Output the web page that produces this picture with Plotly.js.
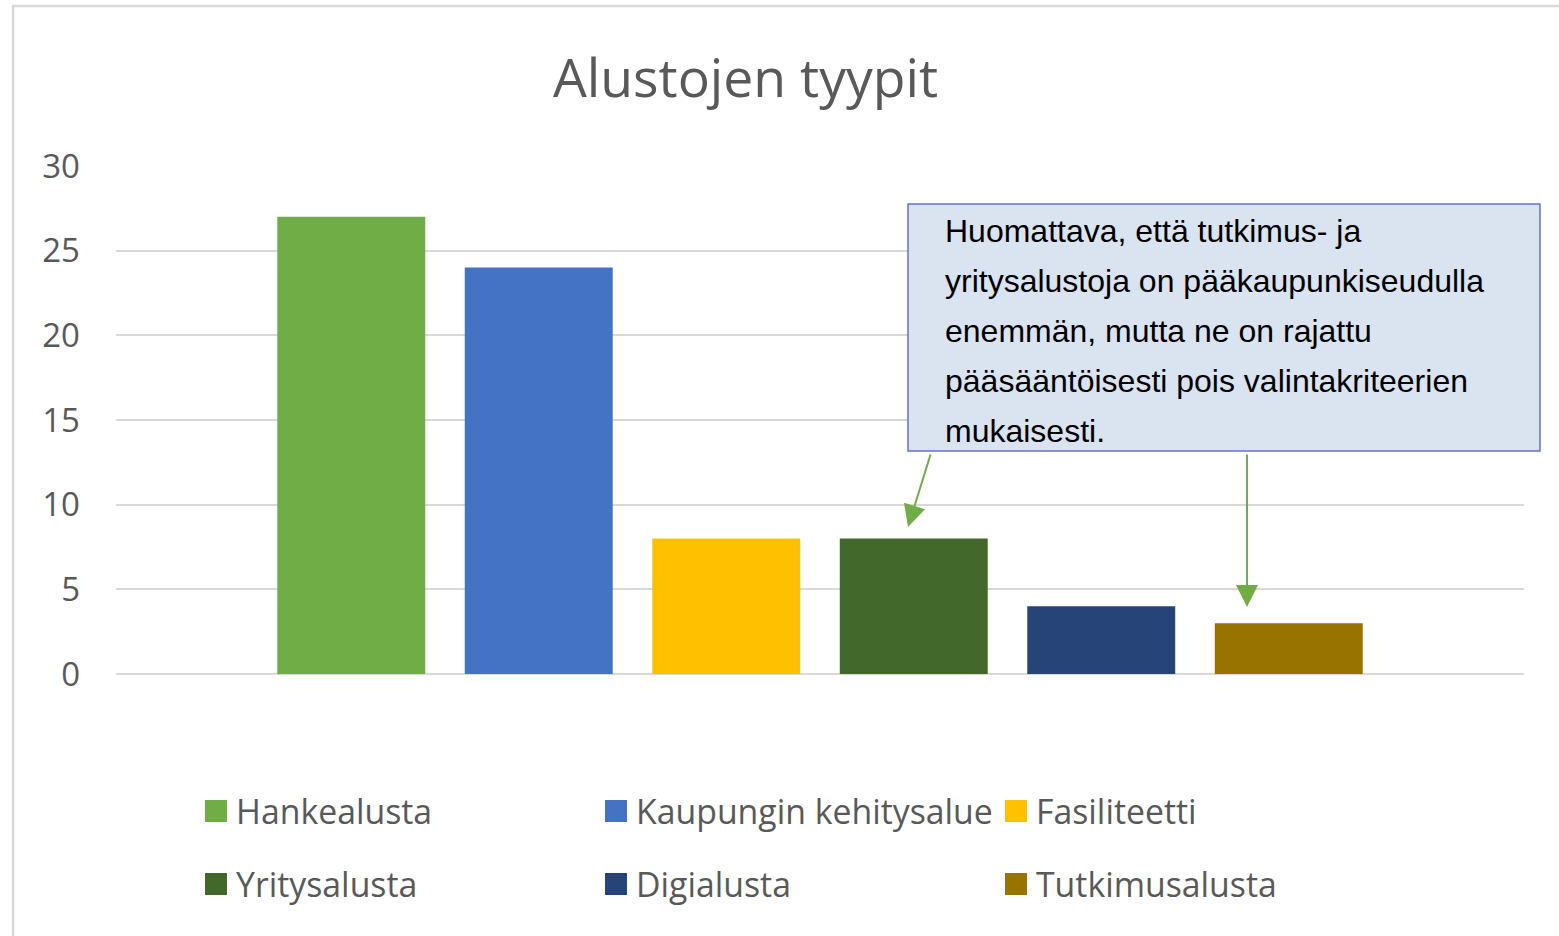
<!DOCTYPE html>
<html>
<head>
<meta charset="utf-8">
<script src="https://cdn.plot.ly/plotly-3.0.1.min.js"></script>
<style>
  html, body { margin: 0; padding: 0; background: #ffffff; overflow: hidden; }
  #chart { width: 1559px; height: 936px; }
</style>
</head>
<body>
<div id="chart"></div>
<script>
// ---- data ----
const category = ["Alustojen tyypit"];
const seriesNames = ["Hankealusta", "Kaupungin kehitysalue", "Fasiliteetti", "Yritysalusta", "Digialusta", "Tutkimusalusta"];
const seriesValues = [27, 24, 8, 8, 4, 3];
const seriesColors = ["#70AD47", "#4472C4", "#FFC000", "#43682B", "#264478", "#997300"];
const yTickValues = [0, 5, 10, 15, 20, 25, 30];
const chartTitle = "Alustojen tyypit";
const noteLines = [
  "Huomattava, että tutkimus- ja",
  "yritysalustoja on pääkaupunkiseudulla",
  "enemmän, mutta ne on rajattu",
  "pääsääntöisesti pois valintakriteerien",
  "mukaisesti."
];

// ---- layout geometry ----
const W = 1559, H = 936;
const M = { l: 116, r: 35, t: 166, b: 262 };
const PW = W - M.l - M.r, PH = H - M.t - M.b;
const px = x => (x - M.l) / PW;          // pixel -> paper x
const py = y => (H - M.b - y) / PH;      // pixel -> paper y

const traces = seriesNames.map((name, i) => ({
  type: "bar", name: name, x: category, y: [seriesValues[i]],
  marker: { color: seriesColors[i], line: { width: 0 } },
  legend: i < 3 ? "legend" : "legend2"
}));

const legendFont = { family: "Open Sans, sans-serif", size: 33.8, color: "#595959" };
const noteFont = { family: "Liberation Sans, Arial, sans-serif", size: 32, color: "#000000" };

const annotations = noteLines.map((t, i) => ({
  xref: "paper", yref: "paper", x: px(943), y: py(231 + 50 * i),
  xanchor: "left", yanchor: "middle", text: t, showarrow: false, font: noteFont, align: "left"
}));
annotations.push({ xref: "paper", yref: "paper", x: px(908), y: py(527), text: "",
  showarrow: true, arrowhead: 2, arrowsize: 2.2, arrowwidth: 2, arrowcolor: "#70AD47", ax: 23, ay: -74, standoff: 0 });
annotations.push({ xref: "paper", yref: "paper", x: px(1247), y: py(607), text: "",
  showarrow: true, arrowhead: 2, arrowsize: 2.2, arrowwidth: 2, arrowcolor: "#70AD47", ax: 0, ay: -154, standoff: 0 });

const layout = {
  width: W, height: H, margin: M,
  paper_bgcolor: "#ffffff", plot_bgcolor: "#ffffff",
  barmode: "group", bargap: 0.201, bargroupgap: 0.211,
  title: { text: chartTitle, font: { family: "Open Sans, sans-serif", size: 53.5, color: "#595959" },
    xref: "container", yref: "container", x: 745.5 / W, y: 1 - 78 / H, xanchor: "center", yanchor: "middle" },
  xaxis: { type: "category", range: [-0.5, 0.5], showticklabels: false, showgrid: false, zeroline: false, showline: false, ticks: "" },
  yaxis: { range: [0, 30], tickvals: yTickValues, ticktext: yTickValues.map(String),
    showgrid: true, gridcolor: "#D9D9D9", gridwidth: 2, zeroline: true, zerolinecolor: "#D9D9D9", zerolinewidth: 2,
    showline: false, ticks: "", ticklabelstandoff: 35,
    tickfont: { family: "Open Sans, sans-serif", size: 33, color: "#595959" } },
  legend: { orientation: "h", x: px(196), y: py(811), xanchor: "left", yanchor: "middle",
    entrywidth: 355, entrywidthmode: "pixels", font: legendFont, bgcolor: "rgba(0,0,0,0)" },
  legend2: { orientation: "h", x: px(196), y: py(884), xanchor: "left", yanchor: "middle",
    entrywidth: 355, entrywidthmode: "pixels", font: legendFont, bgcolor: "rgba(0,0,0,0)" },
  shapes: [
    { type: "rect", xref: "paper", yref: "paper", layer: "below", x0: px(13), x1: px(1600), y0: py(1000), y1: py(6),
      line: { color: "#D9D9D9", width: 2.5 }, fillcolor: "rgba(0,0,0,0)" },
    { type: "rect", xref: "paper", yref: "paper", layer: "above", x0: px(908), x1: px(1540), y0: py(451), y1: py(204),
      line: { color: "#6673C8", width: 1.5 }, fillcolor: "#DAE3F0" }
  ],
  annotations: annotations, showlegend: true
};

// Plotly draws fixed 12px legend swatches; the reference uses ~22px squares
function enlargeSwatches(gd) {
  gd.querySelectorAll("g.legendpoints path").forEach(p => {
    const t = p.getAttribute("transform") || "";
    if (t.indexOf("scale") === -1) p.setAttribute("transform", (t + " scale(1.83)").trim());
  });
}

const gdEl = document.getElementById("chart");
Plotly.newPlot(gdEl, traces, layout, { displayModeBar: false, staticPlot: true });
enlargeSwatches(gdEl);
gdEl.on && gdEl.on("plotly_afterplot", () => enlargeSwatches(gdEl));
</script>
</body>
</html>
